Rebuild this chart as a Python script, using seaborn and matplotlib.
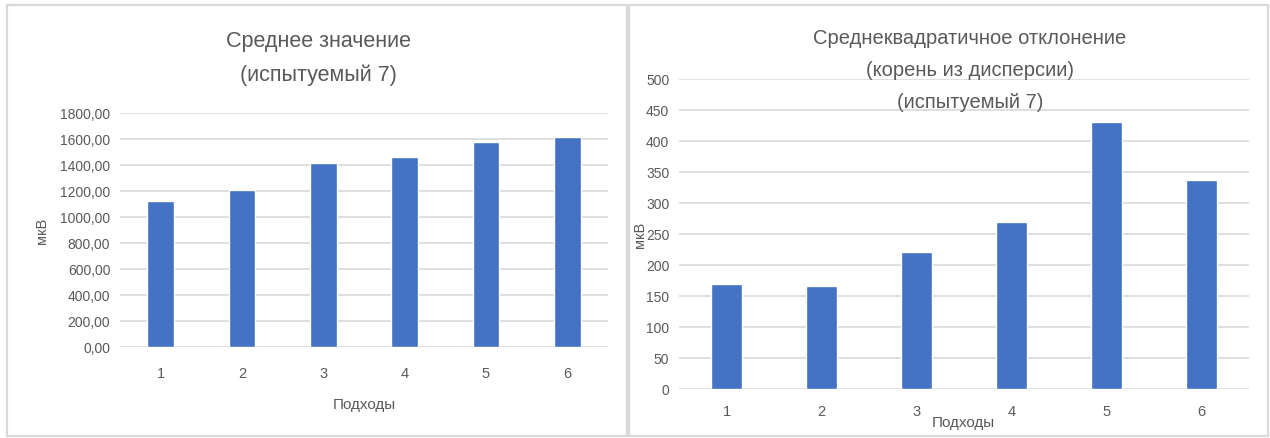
import matplotlib
matplotlib.use("Agg")
import matplotlib.pyplot as plt
from matplotlib.patches import Rectangle
import seaborn as sns
import pandas as pd

# Data
sets = ["1", "2", "3", "4", "5", "6"]
mean_values = [1123, 1210, 1415, 1464, 1577, 1612]
std_values = [169, 165, 220, 269, 430, 337]

left_title = ["Среднее значение", "(испытуемый 7)"]
right_title = ["Среднеквадратичное отклонение", "(корень из дисперсии)", "(испытуемый 7)"]
x_label = "Подходы"
y_label = "мкВ"
left_ticks = [0, 200, 400, 600, 800, 1000, 1200, 1400, 1600, 1800]
right_ticks = [0, 50, 100, 150, 200, 250, 300, 350, 400, 450, 500]

BAR = "#4472C4"
TEXT = "#595959"
GRID = "#D9D9D9"

sns.set_theme(style="white")
plt.rcParams["font.family"] = ["Liberation Sans", "DejaVu Sans"]

W, H = 1270, 439
fig = plt.figure(figsize=(W / 100, H / 100), dpi=100)
fig.patch.set_facecolor("white")


def px_axes(x0, x1, ytop, ybot):
    return fig.add_axes([x0 / W, 1 - ybot / H, (x1 - x0) / W, (ybot - ytop) / H])


def panel_border(x0, x1, y0, y1):
    fig.patches.append(Rectangle((x0 / W, 1 - y1 / H), (x1 - x0) / W, (y1 - y0) / H,
                                 transform=fig.transFigure, fill=False,
                                 edgecolor=GRID, linewidth=1.6, zorder=0))


def style_axes(ax, ticks, labels, xpad):
    ax.set_ylim(ticks[0], ticks[-1])
    ax.set_yticks(ticks)
    ax.set_yticklabels(labels)
    ax.yaxis.grid(True, color=GRID, linewidth=1.2)
    ax.xaxis.grid(False)
    ax.set_axisbelow(True)
    for s in ax.spines.values():
        s.set_visible(False)
    ax.tick_params(axis="both", length=0, colors=TEXT, labelsize=10)
    ax.tick_params(axis="y", pad=7)
    ax.tick_params(axis="x", pad=xpad, labelsize=10.5)
    ax.set_facecolor("none")


# Left panel: mean value
panel_border(6.5, 626.5, 6, 437)
ax1 = px_axes(120, 608, 114, 348)
df1 = pd.DataFrame({"set": sets, "value": mean_values})
sns.barplot(data=df1, x="set", y="value", color=BAR, saturation=1, width=0.33, ax=ax1)
style_axes(ax1, left_ticks, [f"{t},00" for t in left_ticks], 14)
ax1.set_xlabel(x_label, color=TEXT, fontsize=11, va="center")
ax1.xaxis.set_label_coords(0.5, (348 - 405) / 234)
ax1.set_ylabel(y_label, color=TEXT, fontsize=10.5, va="center")
ax1.yaxis.set_label_coords((42 - 120) / 488, 0.5)
for line, y in zip(left_title, [42, 75]):
    fig.text(318 / W, 1 - y / H, line, ha="center", va="center", fontsize=15.5, color=TEXT)

# Right panel: standard deviation
panel_border(629, 1268, 6, 437)
ax2 = px_axes(679, 1249, 79.5, 389.5)
df2 = pd.DataFrame({"set": sets, "value": std_values})
sns.barplot(data=df2, x="set", y="value", color=BAR, saturation=1, width=0.32, ax=ax2)
style_axes(ax2, right_ticks, [str(t) for t in right_ticks], 11)
ax2.set_xlabel(x_label, color=TEXT, fontsize=11, va="center")
ax2.xaxis.set_label_coords((963 - 679) / 570, (389.5 - 423) / 310)
ax2.set_ylabel(y_label, color=TEXT, fontsize=10.5, va="center")
ax2.yaxis.set_label_coords((640 - 679) / 570, 0.5)
for line, y in zip(right_title, [38, 71, 102]):
    fig.text(970 / W, 1 - y / H, line, ha="center", va="center", fontsize=14.5, color=TEXT)

fig.savefig("out.png", dpi=100, facecolor="white")
